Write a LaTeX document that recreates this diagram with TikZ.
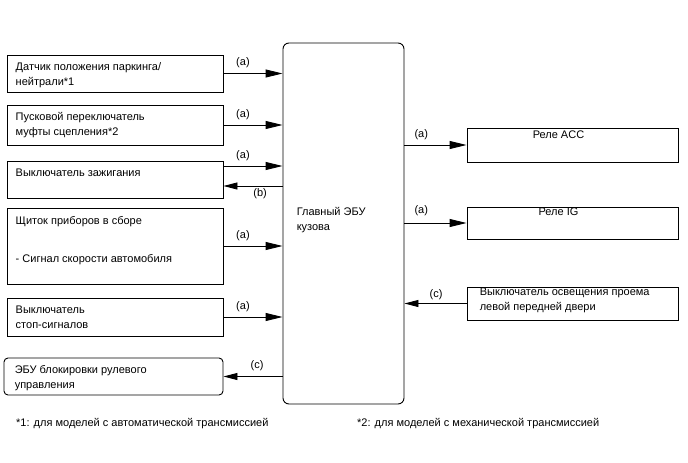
\documentclass[tikz,border=0pt]{standalone}
\usepackage{fontspec}
\setmainfont{Liberation Sans}
\usetikzlibrary{positioning, arrows.meta}

\begin{document}
\begin{tikzpicture}[
  x=1pt, y=-1pt,
  font=\fontsize{11}{15}\selectfont,
  box/.style={draw,line width=0.9pt,minimum width=216pt,inner sep=0pt},
  rbox/.style={draw,line width=0.9pt,minimum width=211pt,inner sep=0pt},
  txt/.style={align=left,inner sep=0pt,anchor=north west},
  arrow/.style={-{Triangle[length=17pt,width=8pt]},line width=0.9pt},
  back/.style={-{Triangle[length=14pt,width=7pt]},line width=0.9pt},
  lbl/.style={above=4pt,inner sep=1pt},
]
\useasboundingbox (0,0) rectangle (688,463);

% left column
\node[box,minimum height=37pt] (park) at (115,73.5) {};
\node[box,minimum height=40pt] (clutch) at (115,125) {};
\node[box,minimum height=37pt] (ign) at (115,179.5) {};
\node[box,minimum height=76pt] (meter) at (115,246) {};
\node[box,minimum height=38pt] (stop) at (115,317) {};
\node[box,rounded corners=4pt,minimum width=219pt,minimum height=37pt] (steer) at (113.5,376.5) {};

\node[txt] at ([shift={(9pt,-8pt)}]park.north west) {Датчик положения паркинга/\\нейтрали*1};
\node[txt] at ([shift={(9pt,-8pt)}]clutch.north west) {Пусковой переключатель\\муфты сцепления*2};
\node[txt] at ([shift={(9pt,-8pt)}]ign.north west) {Выключатель зажигания};
\node[txt] at ([shift={(9pt,-9pt)}]meter.north west) {Щиток приборов в сборе\\[23pt]- Сигнал скорости автомобиля};
\node[txt] at ([shift={(9pt,-8pt)}]stop.north west) {Выключатель\\стоп-сигналов};
\node[txt] at ([shift={(11pt,-8pt)}]steer.north west) {ЭБУ блокировки рулевого\\управления};

% body ECU
\node[draw,line width=0.9pt,rounded corners=6pt,minimum width=121pt,minimum height=361pt,inner sep=0pt] (main) at (343.5,223.5) {};
\node[txt,anchor=west] at ([shift={(14pt,3pt)}]main.west) {Главный ЭБУ\\кузова};

% right column
\node[rbox,minimum height=34pt] (acc) at (572.5,145) {};
\node[rbox,minimum height=32pt] (igr) at (572.5,223) {};
\node[rbox,minimum height=33pt] (door) at (572.5,303.5) {};

\node[inner sep=0pt,anchor=north] at ([shift={(-14pt,-3pt)}]acc.north) {Реле ACC};
\node[inner sep=0pt,anchor=north] at ([shift={(-14pt,-1pt)}]igr.north) {Реле IG};
\node[txt] at ([shift={(13pt,-1pt)}]door.north west) {Выключатель освещения проема\\левой передней двери};

% connectors
\foreach \n in {park,clutch,meter,stop} {
  \draw[arrow] (\n.east) -- node[lbl,pos=0.33]{(a)} (\n.east -| main.west);
}
\draw[arrow] ([yshift=13.5pt]ign.east) -- node[lbl,pos=0.33]{(a)} ([yshift=13.5pt]ign.east -| main.west);
\draw[back] ([yshift=-6.5pt]ign.east -| main.west) -- node[below=1pt,inner sep=1pt,pos=0.38]{(b)} ([yshift=-6.5pt]ign.east);
\draw[back] (steer.east -| main.west) -- node[lbl,pos=0.43]{(c)} (steer.east);

\draw[arrow] (acc.west -| main.east) -- node[lbl,pos=0.27]{(a)} (acc.west);
\draw[arrow] (igr.west -| main.east) -- node[lbl,pos=0.27,above=6pt]{(a)} (igr.west);
\draw[back] (door.west) -- node[above=2pt,inner sep=1pt,pos=0.49]{(c)} (door.west -| main.east);

% footnotes
\node[txt,anchor=west] (fn1) at (16,424) {*1: для моделей с автоматической трансмиссией};
\node[txt,anchor=west] (fn2) at (357,424) {*2: для моделей с механической трансмиссией};
\end{tikzpicture}
\end{document}
